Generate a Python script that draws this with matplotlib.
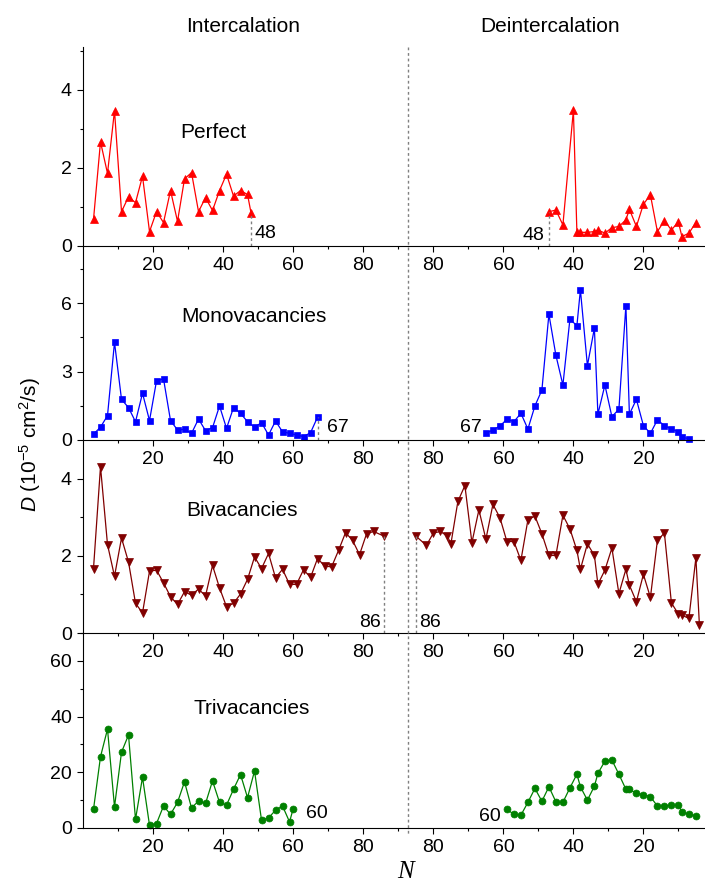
import matplotlib
matplotlib.use('Agg')
import matplotlib.pyplot as plt
from matplotlib.lines import Line2D

plt.rcParams['font.family'] = ['Liberation Sans', 'DejaVu Sans']
plt.rcParams['mathtext.fontset'] = 'custom'
plt.rcParams['mathtext.rm'] = 'Liberation Sans'
plt.rcParams['mathtext.it'] = 'Liberation Sans:italic'

# ---- data (N, D in 1e-5 cm^2/s; trivacancies in same units as axis) ----
perf_in_n = list(range(3, 48, 2)) + [48]
perf_in_d = [0.68, 2.67, 1.86, 3.47, 0.88, 1.26, 1.11, 1.79, 0.37, 0.88, 0.60, 1.42,
             0.63, 1.72, 1.88, 0.88, 1.24, 0.91, 1.42, 1.84, 1.28, 1.42, 1.32, 0.85]
perf_de_n = [47, 45, 43, 40, 39, 38, 36, 34, 33, 31, 29, 27, 25, 24, 22, 20, 18, 16, 14, 12, 10, 9, 7, 5]
perf_de_d = [0.88, 0.92, 0.54, 3.48, 0.35, 0.35, 0.35, 0.37, 0.41, 0.33, 0.47, 0.50,
             0.67, 0.94, 0.50, 1.07, 1.31, 0.37, 0.65, 0.41, 0.62, 0.24, 0.33, 0.60]

mono_in_n = list(range(3, 68, 2))
mono_in_d = [0.26, 0.56, 1.07, 4.28, 1.78, 1.42, 0.80, 2.05, 0.85, 2.59, 2.68, 0.85,
             0.44, 0.47, 0.29, 0.92, 0.41, 0.54, 1.49, 0.51, 1.42, 1.17, 0.80, 0.56,
             0.76, 0.22, 0.83, 0.36, 0.29, 0.22, 0.15, 0.32, 1.00]
mono_de_n = [65, 63, 61, 59, 57, 55, 53, 51, 49, 47, 45, 43, 41, 39, 38, 36,
             34, 33, 31, 29, 27, 25, 24, 22, 20, 18, 16, 14, 12, 10, 9, 7]
mono_de_d = [0.29, 0.44, 0.61, 0.91, 0.80, 1.17, 0.48, 1.49, 2.19, 5.51, 3.71, 2.41,
             5.29, 5.01, 6.58, 3.26, 4.90, 1.13, 2.41, 1.02, 1.35, 5.89, 1.13, 1.78,
             0.63, 0.29, 0.88, 0.63, 0.48, 0.36, 0.12, 0.06]

bi_in_n = list(range(3, 84, 2)) + [86]
bi_in_d = [1.67, 4.31, 2.29, 1.47, 2.46, 1.84, 0.77, 0.52, 1.60, 1.63, 1.30, 0.94,
           0.74, 1.07, 0.98, 1.14, 0.96, 1.75, 1.17, 0.68, 0.77, 1.01, 1.39, 1.97,
           1.67, 2.06, 1.43, 1.65, 1.26, 1.26, 1.64, 1.44, 1.93, 1.74, 1.71, 2.14,
           2.60, 2.40, 2.03, 2.57, 2.63, 2.51]
bi_de_n = [85, 82, 80, 78, 76, 75, 73, 71, 69, 67, 65, 63, 61, 59, 57, 55, 53, 51, 49, 47, 45, 43,
           41, 39, 38, 36, 34, 33, 31, 29, 27, 25, 24, 22, 20, 18, 16, 14, 12, 10, 9, 7, 5, 4]
bi_de_d = [2.51, 2.27, 2.59, 2.63, 2.51, 2.31, 3.41, 3.82, 2.34, 3.19, 2.43, 3.33,
           2.99, 2.37, 2.37, 1.88, 2.93, 3.03, 2.57, 2.01, 2.01, 3.05, 2.70, 2.14,
           1.65, 2.31, 2.01, 1.26, 1.63, 2.20, 1.02, 1.65, 1.24, 0.81, 1.52, 0.92,
           2.40, 2.59, 0.78, 0.49, 0.46, 0.38, 1.95, 0.21]

tri_in_n = list(range(3, 60, 2)) + [60]
tri_in_d = [6.7, 25.6, 35.5, 7.6, 27.2, 33.4, 3.1, 18.2, 1.0, 1.6, 7.9, 4.9, 9.2, 16.6, 7.2,
            9.7, 8.8, 16.9, 9.2, 8.2, 13.9, 19.2, 10.9, 20.5, 2.8, 3.6, 6.4, 7.9, 2.2, 6.7]
tri_de_n = [59, 57, 55, 53, 51, 49, 47, 45, 43, 41, 39, 38, 36, 34, 33,
            31, 29, 27, 25, 24, 22, 20, 18, 16, 14, 12, 10, 9, 7, 5]
tri_de_d = [6.7, 4.9, 4.6, 9.2, 14.2, 9.6, 14.8, 9.4, 9.2, 14.4, 19.3, 14.8, 10.0, 15.0, 19.6,
            24.0, 24.4, 19.3, 13.9, 13.9, 12.4, 12.0, 11.2, 7.9, 7.9, 8.2, 8.2, 5.8, 4.9, 4.4]

names = ['Perfect', 'Monovacancies', 'Bivacancies', 'Trivacancies']
colors = ['#ff0000', '#0000ff', '#800000', '#008000']
markers = ['^', 's', 'v', 'o']
msizes = [6, 5, 6, 5]
ylims = [5.1, 8.5, 5.0, 70]
yticks = [[0, 2, 4], [0, 3, 6], [0, 2, 4], [0, 20, 40, 60]]
yminor = [[1, 3, 5], [1.5, 4.5, 7.5], [1, 3], [10, 30, 50, 70]]
total = ['48', '67', '86', '60']

W, H = 705.0, 883.0
rows_px = [(47, 246), (246, 440), (440, 633), (633, 828)]
x0, xmid, x1 = 83.0, 407.5, 705.0
left_lim = (0, 92.7)
right_lim = (87.4, 2.4)

fig = plt.figure(figsize=(W / 100, H / 100), dpi=100)


def style_axis(ax, left):
    ax.spines['top'].set_visible(False)
    ax.spines['right'].set_visible(False)
    ax.patch.set_alpha(0)
    ax.tick_params(which='major', direction='out', length=4.5, width=0.8, labelsize=14)
    ax.tick_params(which='minor', direction='out', length=2.5, width=0.8)
    if not left:
        ax.spines['left'].set_visible(False)
        ax.set_yticks([])
        ax.set_xticks([80, 60, 40, 20])
        ax.set_xticks([70, 50, 30, 10], minor=True)
    else:
        ax.set_xticks([20, 40, 60, 80])
        ax.set_xticks([10, 30, 50, 70, 90], minor=True)


def draw_row(i, n_in, d_in, n_de, d_de):
    top, bot = rows_px[i]
    b = 1 - bot / H
    h = (bot - top) / H
    axl = fig.add_axes([x0 / W, b, (xmid - x0) / W, h])
    axr = fig.add_axes([xmid / W, b, (x1 - xmid) / W, h])
    for ax, n, d, left in [(axl, n_in, d_in, True), (axr, n_de, d_de, False)]:
        ax.plot(n, d, color=colors[i], marker=markers[i], ms=msizes[i], lw=0.9,
                markeredgewidth=0.5, clip_on=False)
        ax.set_ylim(0, ylims[i])
        style_axis(ax, left)
    axl.set_xlim(*left_lim)
    axr.set_xlim(*right_lim)
    axl.set_yticks(yticks[i])
    axl.set_yticks(yminor[i], minor=True)
    return axl, axr


axes = []
axes.append(draw_row(0, perf_in_n, perf_in_d, perf_de_n, perf_de_d))
axes.append(draw_row(1, mono_in_n, mono_in_d, mono_de_n, mono_de_d))
axes.append(draw_row(2, bi_in_n, bi_in_d, bi_de_n, bi_de_d))
axes.append(draw_row(3, tri_in_n, tri_in_d, tri_de_n, tri_de_d))

dot = dict(color='#808080', lw=1, ls=(0, (2, 2)))
# perfect
axl, axr = axes[0]
axl.plot([perf_in_n[-1]] * 2, [0, perf_in_d[-1]], **dot)
axr.plot([perf_de_n[0]] * 2, [0, perf_de_d[0]], **dot)
axl.text(49.0, 0.33, total[0], fontsize=14, va='center', ha='left')
axr.text(48.4, 0.28, total[0], fontsize=14, va='center', ha='right')
# mono
axl, axr = axes[1]
axl.plot([mono_in_n[-1]] * 2, [0, mono_in_d[-1]], **dot)
axl.text(69.7, 0.53, total[1], fontsize=14, va='center', ha='left')
axr.text(66.1, 0.53, total[1], fontsize=14, va='center', ha='right')
# bi
axl, axr = axes[2]
axl.plot([bi_in_n[-1]] * 2, [0, bi_in_d[-1]], **dot)
axr.plot([bi_de_n[0]] * 2, [0, bi_de_d[0]], **dot)
axl.text(85.1, 0.28, total[2], fontsize=14, va='center', ha='right')
axr.text(84.1, 0.28, total[2], fontsize=14, va='center', ha='left')
# tri
axl, axr = axes[3]
axl.text(63.7, 5.3, total[3], fontsize=14, va='center', ha='left')
axr.text(60.9, 4.2, total[3], fontsize=14, va='center', ha='right')

# separator
fig.add_artist(Line2D([xmid / W, xmid / W], [1 - 47 / H, 1 - 835 / H],
                      transform=fig.transFigure, color='#808080', lw=1, ls=(0, (2, 2))))

# panel names
name_pos = [(213, 132), (254, 317), (242, 510), (252, 709)]
for nm, (px, py) in zip(names, name_pos):
    fig.text(px / W, 1 - py / H, nm, fontsize=15, ha='center', va='center')

fig.text(243 / W, 1 - 27 / H, 'Intercalation', fontsize=15, ha='center', va='center')
fig.text(550 / W, 1 - 27 / H, 'Deintercalation', fontsize=15, ha='center', va='center')
fig.text(30 / W, 1 - 445 / H, r'$D$ (10$^{-5}$ cm$^2$/s)', fontsize=15,
         rotation=90, ha='center', va='center')
fig.text(405 / W, 1 - 872 / H, 'N', fontsize=18, family='Liberation Serif',
         style='italic', ha='center', va='center')

fig.savefig('out.png', dpi=100)
